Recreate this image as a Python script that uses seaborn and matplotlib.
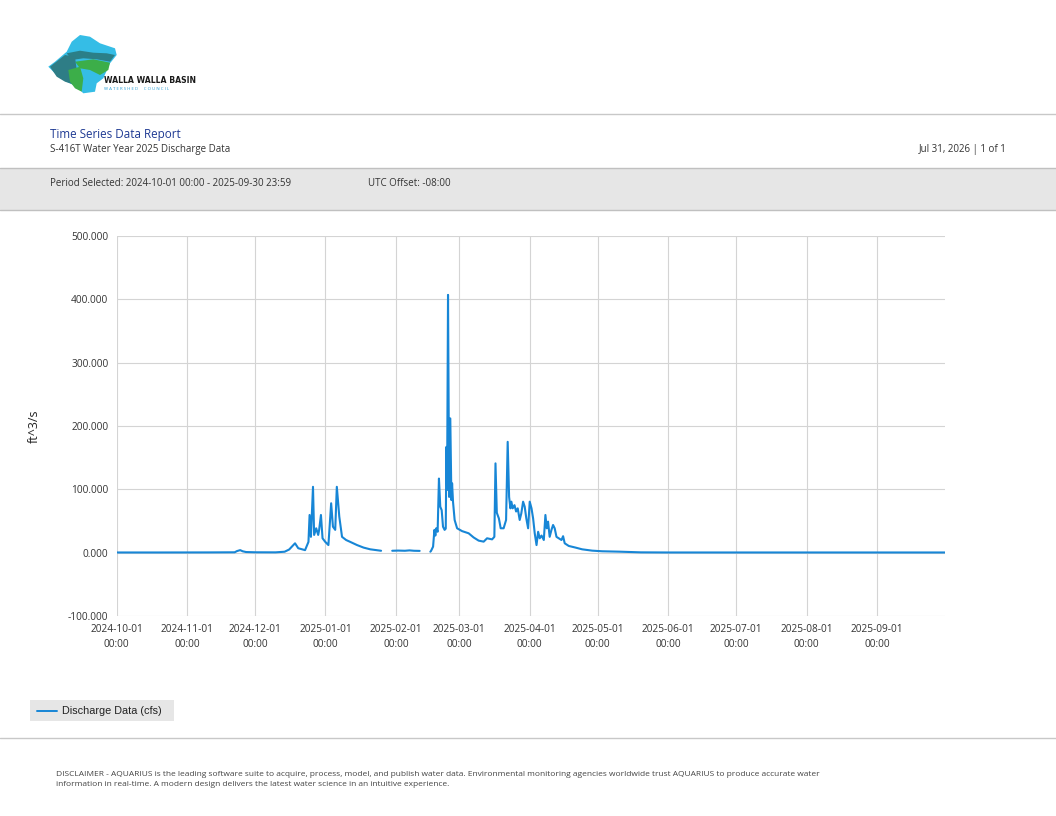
import numpy as np
import pandas as pd
import matplotlib
matplotlib.use("Agg")
import matplotlib.pyplot as plt
import matplotlib.dates as mdates
import seaborn as sns
from matplotlib.patches import Rectangle, Polygon
from matplotlib.ticker import FuncFormatter, MultipleLocator

# ---------------- data ----------------
seg1_times = ["2024-10-01 00:00", "2024-10-20 00:00", "2024-11-10 00:00", "2024-11-22 00:00",
              "2024-11-23 00:00", "2024-11-24 10:00", "2024-11-25 12:00", "2024-11-27 00:00",
              "2024-12-01 00:00", "2024-12-10 00:00", "2024-12-14 00:00", "2024-12-16 00:00",
              "2024-12-18 14:00", "2024-12-20 00:00", "2024-12-23 00:00", "2024-12-24 12:00",
              "2024-12-25 00:00", "2024-12-25 14:00", "2024-12-26 12:00", "2024-12-27 00:00",
              "2024-12-27 22:00", "2024-12-28 19:00", "2024-12-29 05:00", "2024-12-30 00:00",
              "2024-12-30 17:00", "2024-12-31 22:00", "2025-01-02 07:00", "2025-01-03 12:00",
              "2025-01-04 07:00", "2025-01-05 07:00", "2025-01-06 00:00", "2025-01-07 02:00",
              "2025-01-08 07:00", "2025-01-10 02:00", "2025-01-11 22:00", "2025-01-14 22:00",
              "2025-01-17 19:00", "2025-01-20 17:00", "2025-01-25 02:00", "2025-01-25 12:00"]
seg1_values = [0.3, 0.3, 0.4, 0.6, 2.5, 4.0, 2.2, 1.0, 0.6, 0.5,
               1.5, 5.0, 14.8, 7.0, 4.0, 17.0, 59.5, 25.0, 104.0, 28.0,
               38.5, 28.0, 36.0, 59.5, 22.7, 17.0, 12.0, 78.0, 41.0, 36.0,
               104.0, 57.0, 25.0, 20.0, 17.0, 12.0, 8.0, 5.3, 3.2, 3.0]

seg2_times = ["2025-01-30 10:00", "2025-02-02 00:00", "2025-02-05 00:00",
              "2025-02-07 00:00", "2025-02-09 00:00", "2025-02-11 12:00"]
seg2_values = [3.0, 3.3, 3.0, 3.6, 3.0, 2.8]

seg3_times = ["2025-02-16 05:00", "2025-02-16 12:00", "2025-02-17 10:00", "2025-02-18 00:00",
              "2025-02-18 10:00", "2025-02-18 19:00", "2025-02-19 10:00", "2025-02-20 00:00",
              "2025-02-20 14:00", "2025-02-21 05:00", "2025-02-21 19:00", "2025-02-22 12:00",
              "2025-02-23 00:00", "2025-02-23 07:00", "2025-02-23 14:00", "2025-02-24 00:00",
              "2025-02-24 12:00", "2025-02-25 00:00", "2025-02-25 12:00", "2025-02-25 19:00",
              "2025-02-26 05:00", "2025-02-26 22:00", "2025-02-28 00:00", "2025-03-02 05:00",
              "2025-03-05 02:00", "2025-03-07 07:00", "2025-03-09 12:00", "2025-03-11 17:00",
              "2025-03-13 05:00", "2025-03-15 10:00", "2025-03-16 10:00", "2025-03-16 22:00",
              "2025-03-17 12:00", "2025-03-18 10:00", "2025-03-19 05:00", "2025-03-20 12:00",
              "2025-03-21 14:00", "2025-03-22 07:00", "2025-03-22 22:00", "2025-03-23 12:00",
              "2025-03-23 22:00", "2025-03-24 12:00", "2025-03-25 07:00", "2025-03-26 00:00",
              "2025-03-26 17:00", "2025-03-27 14:00", "2025-03-28 07:00", "2025-03-29 02:00",
              "2025-03-29 19:00", "2025-03-30 12:00", "2025-03-31 07:00", "2025-04-01 00:00",
              "2025-04-01 19:00", "2025-04-02 12:00", "2025-04-03 05:00", "2025-04-04 00:00",
              "2025-04-04 17:00", "2025-04-05 10:00", "2025-04-06 05:00", "2025-04-07 05:00",
              "2025-04-07 22:00", "2025-04-08 12:00", "2025-04-09 02:00", "2025-04-09 19:00",
              "2025-04-10 14:00", "2025-04-11 07:00", "2025-04-12 00:00", "2025-04-12 19:00",
              "2025-04-13 19:00", "2025-04-15 00:00", "2025-04-15 17:00", "2025-04-16 10:00",
              "2025-04-18 05:00", "2025-04-21 05:00", "2025-04-24 02:00", "2025-04-28 12:00",
              "2025-05-02 22:00", "2025-05-10 07:00", "2025-05-20 00:00", "2025-06-01 00:00",
              "2025-09-30 23:59"]
seg3_values = [1.5, 2.7, 9.5, 36.0, 27.0, 38.5, 33.0, 117.0,
               72.6, 67.0, 41.0, 36.0, 38.0, 167.0, 99.0, 407.0,
               88.0, 212.0, 83.0, 109.5, 80.0, 51.6, 38.5, 34.0,
               30.6, 24.0, 19.0, 17.4, 22.7, 21.0, 25.0, 141.0,
               63.0, 54.0, 38.5, 38.5, 51.6, 175.0, 88.0, 70.0,
               80.5, 70.0, 75.0, 65.0, 70.0, 51.6, 62.0, 80.5,
               72.6, 54.0, 38.5, 80.5, 70.0, 54.0, 30.6, 12.0,
               33.0, 22.7, 27.0, 20.0, 59.5, 38.5, 49.0, 25.0,
               36.0, 43.7, 38.5, 25.0, 22.7, 20.0, 26.0, 14.8,
               10.6, 8.0, 5.3, 3.2, 2.2, 1.6, 0.5, 0.3,
               0.3]

series_label = "Discharge Data (cfs)"
y_label = "ft^3/s"

frames = []
for k, (t, v) in enumerate([(seg1_times, seg1_values), (seg2_times, seg2_values), (seg3_times, seg3_values)]):
    frames.append(pd.DataFrame({"time": pd.to_datetime(t), "value": v, "segment": k}))
df = pd.concat(frames, ignore_index=True)

# ---------------- style ----------------
sns.set_theme(style="white")
plt.rcParams["font.family"] = ["Open Sans", "DejaVu Sans"]

W, H = 1056, 816
LINE = "#1786d6"
GRID = "#d4d4d4"
TXT = "#333333"

fig = plt.figure(figsize=(W / 100, H / 100), dpi=100)
fig.patch.set_facecolor("white")

# overlay in pixel coordinates for the report furniture
ov = fig.add_axes([0, 0, 1, 1], zorder=0)
ov.set_xlim(0, W)
ov.set_ylim(H, 0)
ov.axis("off")

# logo (approximation)
ov.add_patch(Polygon([(71.7, 41.7), (80, 35), (90, 36.7), (100, 43.3), (115, 48.3), (116.7, 55),
                      (110, 63.3), (103.3, 78.3), (96.7, 83.3), (95, 91.7), (83.3, 93.3),
                      (76.7, 86.7), (66.7, 81.7), (58.3, 76.7), (48.3, 66.7), (55, 61.7),
                      (66.7, 51.7)], closed=True, fc="#35bde6", ec="none"))
ov.add_patch(Polygon([(66.7, 53.3), (80, 50.7), (93.3, 52.7), (106.7, 53.3), (115, 55), (110, 61.7),
                      (96.7, 59.3), (83.3, 58.3), (71.7, 60)], closed=True, fc="#2b7f88", ec="none"))
ov.add_patch(Polygon([(75, 61.7), (93.3, 59.3), (110, 62.7), (108.3, 70), (100, 75), (90, 70),
                      (80, 68.3)], closed=True, fc="#3cae49", ec="none"))
ov.add_patch(Polygon([(50, 66.7), (65, 55), (75, 56.7), (76.7, 70), (80, 81.7), (75, 85),
                      (65, 81.7), (56.7, 76.7)], closed=True, fc="#2e7d86", ec="none"))
ov.add_patch(Polygon([(68.3, 70), (80, 66.7), (83.3, 78.3), (81.7, 91.7), (75, 88.3),
                      (70, 81.7)], closed=True, fc="#3cae49", ec="none"))
ov.text(104, 80.5, "WALLA WALLA BASIN", fontsize=5.6, fontweight="bold", color="#1a1a1a",
        family=["DejaVu Sans"], ha="left", va="center")
ov.text(104, 89.5, "W A T E R S H E D     C O U N C I L", fontsize=3.2, color="#2a9fd6",
        ha="left", va="center")

# header rules and band
ov.plot([0, W], [114, 114], color="#c8c8c8", lw=1)
ov.add_patch(Rectangle((0, 168), W, 42, fc="#e6e6e6", ec="none"))
ov.plot([0, W], [168, 168], color="#c0c0c0", lw=1)
ov.plot([0, W], [210, 210], color="#c0c0c0", lw=1)

ov.text(50, 134.5, "Time Series Data Report", fontsize=8.4, color="#1f3a93", ha="left", va="center")
ov.text(50, 149.5, "S-416T Water Year 2025 Discharge Data", fontsize=7.0, color=TXT, ha="left", va="center")
ov.text(1007, 149.5, "Jul 31, 2026 | 1 of 1", fontsize=7.0, color=TXT, ha="right", va="center")
ov.text(50, 183, "Period Selected: 2024-10-01 00:00 - 2025-09-30 23:59", fontsize=7.0, color=TXT,
        ha="left", va="center")
ov.text(368, 183, "UTC Offset: -08:00", fontsize=7.0, color=TXT, ha="left", va="center")

# legend box
ov.add_patch(Rectangle((30, 700), 144, 21, fc="#e6e6e6", ec="none"))
ov.plot([37, 57], [711, 711], color=LINE, lw=1.4)
ov.text(62, 711, series_label, fontsize=7.8, color="#222222", family=["Liberation Sans", "DejaVu Sans"],
        ha="left", va="center")

# footer
ov.plot([0, W], [738, 738], color="#c8c8c8", lw=1)
ov.text(56, 774, "DISCLAIMER - AQUARIUS is the leading software suite to acquire, process, model, and publish "
        "water data. Environmental monitoring agencies worldwide trust AQUARIUS to produce accurate water",
        fontsize=6.0, color="#444444", ha="left", va="center")
ov.text(56, 785, "information in real-time. A modern design delivers the latest water science in an intuitive experience.",
        fontsize=6.0, color="#444444", ha="left", va="center")

# ---------------- main chart ----------------
left, right, top, bottom = 116.7, 945, 236, 616
ax = fig.add_axes([left / W, 1 - bottom / H, (right - left) / W, (bottom - top) / H], zorder=1)
ax.set_facecolor("none")

sns.lineplot(data=df, x="time", y="value", units="segment", estimator=None,
             color=LINE, linewidth=1.5, ax=ax, legend=False)

ax.set_xlim(pd.Timestamp("2024-10-01 00:00"), pd.Timestamp("2025-09-30 23:59"))
ax.set_ylim(-100, 500)
ax.yaxis.set_major_locator(MultipleLocator(100))
ax.yaxis.set_major_formatter(FuncFormatter(lambda v, p: f"{v:.3f}"))
ax.xaxis.set_major_locator(mdates.MonthLocator())
ax.xaxis.set_major_formatter(mdates.DateFormatter("%Y-%m-%d\n%H:%M"))

ax.grid(True, color=GRID, lw=0.8)
ax.set_axisbelow(True)
for s in ax.spines.values():
    s.set_visible(False)
ax.tick_params(axis="both", length=4, width=0.8, color=GRID, labelsize=7.3, labelcolor=TXT, pad=2)
for lab in ax.get_xticklabels():
    lab.set_linespacing(1.4)

ax.set_xlabel("")
ax.set_ylabel(y_label, fontsize=9, color="#222222")
ax.yaxis.set_label_coords(-(left - 41) / (right - left), 0.5)

fig.savefig("out.png", dpi=100, facecolor="white")
